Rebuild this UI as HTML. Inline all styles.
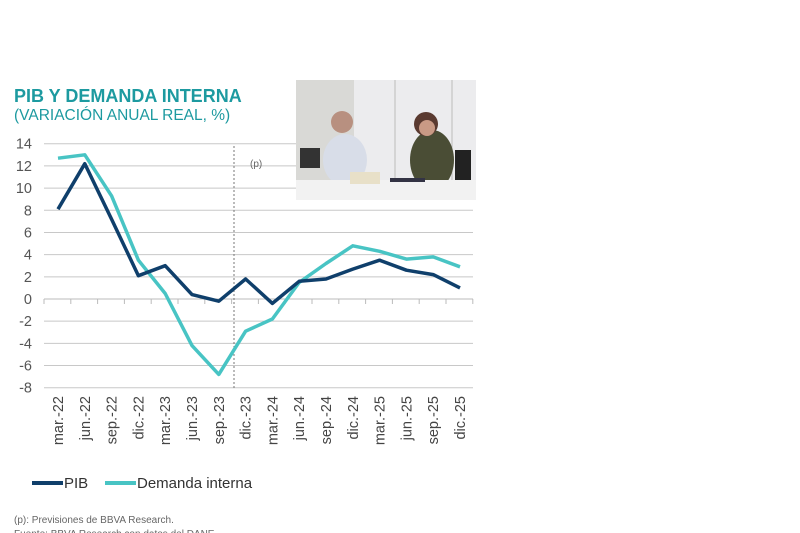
<!DOCTYPE html>
<html><head><meta charset="utf-8"><style>
html,body{margin:0;padding:0;background:#fff;width:800px;height:533px;overflow:hidden}
svg{display:block;font-family:"Liberation Sans",sans-serif}
</style></head><body>
<svg id="s" width="800" height="533" viewBox="0 0 800 533" xmlns="http://www.w3.org/2000/svg">
<text x="14" y="102" font-size="18" font-weight="bold" fill="#1d9aa0">PIB Y DEMANDA INTERNA</text>
<text x="14" y="120" font-size="15.5" fill="#1d9aa0">(VARIACIÓN ANUAL REAL, %)</text>
<g id="grid"></g>
<line x1="234" y1="146" x2="234" y2="388" stroke="#777" stroke-width="1" stroke-dasharray="2,2"/>
<text x="250" y="167" font-size="10" fill="#666">(p)</text>
<g id="series"></g>
<g id="labels" font-size="14.5" fill="#444"></g>
<line x1="32" y1="483" x2="63" y2="483" stroke="#0f3f6b" stroke-width="4"/>
<text x="64" y="488" font-size="15" fill="#333">PIB</text>
<line x1="105" y1="483" x2="136" y2="483" stroke="#48c4c4" stroke-width="4"/>
<text x="137" y="488" font-size="15" fill="#333">Demanda interna</text>
<text x="14" y="523" font-size="10" fill="#666">(p): Previsiones de BBVA Research.</text>
<text x="14" y="537" font-size="10" fill="#666">Fuente: BBVA Research con datos del DANE.</text>
<g>
<rect x="296" y="80" width="180" height="120" fill="#e4e4e4"/>
<rect x="296" y="80" width="58" height="120" fill="#d9d9d6"/>
<rect x="354" y="80" width="122" height="105" fill="#ececee"/>
<line x1="395" y1="80" x2="395" y2="180" stroke="#bbb"/>
<line x1="452" y1="80" x2="452" y2="180" stroke="#bbb"/>
<ellipse cx="345" cy="160" rx="22" ry="26" fill="#d8dde8"/>
<circle cx="342" cy="122" r="11" fill="#b89080"/>
<ellipse cx="432" cy="160" rx="22" ry="30" fill="#4a4d35"/>
<circle cx="426" cy="124" r="12" fill="#5a3a30"/>
<circle cx="427" cy="128" r="8" fill="#c99a85"/>
<rect x="455" y="150" width="16" height="35" fill="#222"/>
<rect x="300" y="148" width="20" height="20" fill="#333"/>
<rect x="296" y="180" width="180" height="20" fill="#f2f2f2"/>
<rect x="350" y="172" width="30" height="12" fill="#e8e0c8"/>
<rect x="390" y="178" width="35" height="4" fill="#334"/>
</g>
</svg>
<script>
var NS="http://www.w3.org/2000/svg";
function el(t,a,p){var e=document.createElementNS(NS,t);for(var k in a)e.setAttribute(k,a[k]);document.getElementById(p).appendChild(e);return e;}
function Y(v){return 299-11.09*v;}
function X(i){return 58+26.8*i;}
for(var v=14;v>=-8;v-=2){
 el("line",{x1:44,x2:473,y1:Y(v),y2:Y(v),stroke:v==0?"#bbb":"#c8c8c8","stroke-width":1},"grid");
 var t=el("text",{x:32,y:Y(v)+5,"font-size":14.5,fill:"#555","text-anchor":"end"},"grid");t.textContent=v;
}
for(var i=0;i<=16;i++)el("line",{x1:44+26.8*i,x2:44+26.8*i,y1:299,y2:304,stroke:"#bbb"},"grid");
var pib=[8.1,12.2,7.2,2.1,3.0,0.4,-0.2,1.8,-0.4,1.6,1.8,2.7,3.5,2.6,2.2,1.0];
var dem=[12.7,13.0,9.3,3.5,0.5,-4.2,-6.8,-2.9,-1.8,1.5,3.2,4.8,4.3,3.6,3.8,2.9];
function pts(a){return a.map(function(v,i){return X(i).toFixed(1)+","+Y(v).toFixed(1)}).join(" ");}
el("polyline",{points:pts(dem),fill:"none",stroke:"#48c4c4","stroke-width":3.5,"stroke-linejoin":"round"},"series");
el("polyline",{points:pts(pib),fill:"none",stroke:"#0f3f6b","stroke-width":3.5,"stroke-linejoin":"round"},"series");
var L=["mar.-22","jun.-22","sep.-22","dic.-22","mar.-23","jun.-23","sep.-23","dic.-23","mar.-24","jun.-24","sep.-24","dic.-24","mar.-25","jun.-25","sep.-25","dic.-25"];
L.forEach(function(s,i){var x=X(i)+5,y=396;var t=el("text",{x:x,y:y,"text-anchor":"end",transform:"rotate(-90 "+x+" "+y+")"},"labels");t.textContent=s;});
</script>
</body></html>
